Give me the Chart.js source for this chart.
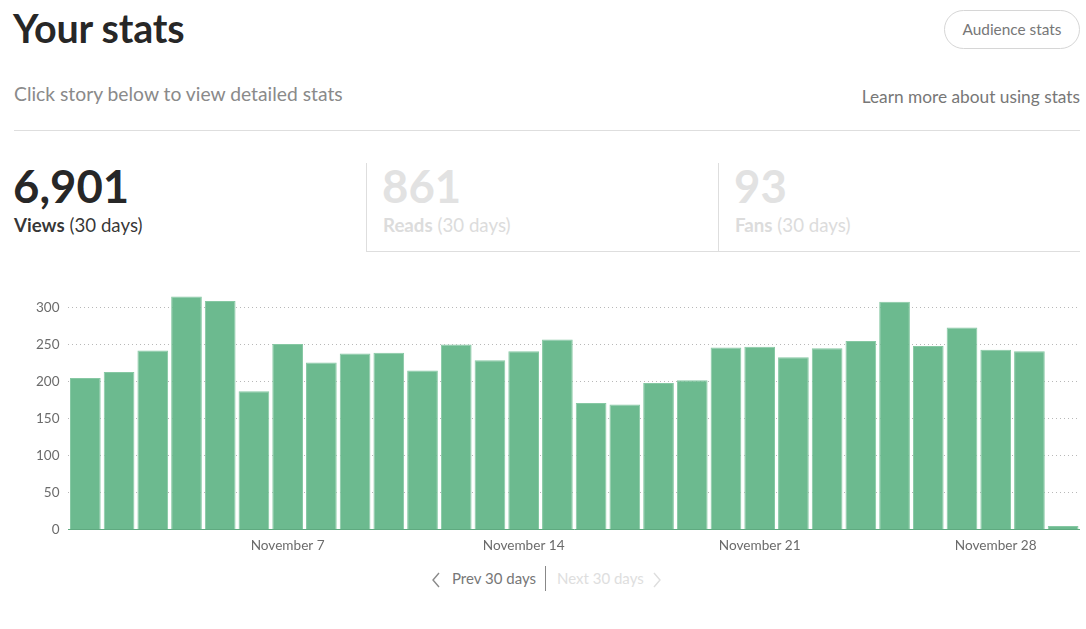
<!DOCTYPE html>
<html>
<head>
<meta charset="utf-8">
<script src="https://cdn.jsdelivr.net/npm/chart.js@4"></script>
<style>
  html, body { margin: 0; padding: 0; background: #fff; }
  body { width: 1086px; height: 629px; position: relative; overflow: hidden; font-family: Lato, "Open Sans", sans-serif; }
  .abs { position: absolute; white-space: nowrap; }
  #title { left: 13px; top: 4px; font-size: 39.5px; font-weight: 700; color: rgba(0,0,0,0.86); letter-spacing: -0.2px; }
  #btn { left: 944px; top: 10px; width: 136px; height: 39px; border: 1px solid #d6d6d6; border-radius: 20px; box-sizing: border-box; font-size: 15.4px; color: #777; text-align: center; line-height: 37px; }
  #sub { left: 14px; top: 82px; font-size: 19.3px; color: #8a8a8a; }
  #learn { right: 6px; top: 86px; font-size: 17.3px; color: #777; }
  #hr { left: 14px; top: 130px; width: 1066px; height: 1px; background: #dedede; }
  .tab { top: 163px; height: 89px; box-sizing: border-box; }
  #t2 { left: 366px; width: 352px; border-left: 1px solid #dedede; border-bottom: 1px solid #dedede; }
  #t3 { left: 718px; width: 362px; border-left: 1px solid #dedede; border-bottom: 1px solid #dedede; }
  .num { font-size: 45.5px; font-weight: 700; line-height: 45px; top: 163px; }
  .lbl { font-size: 18.7px; top: 214px; }
  #chartWrap { position: absolute; left: 27px; top: 272px; width: 1053px; height: 290px; }
  .nav { top: 569px; font-size: 15px; }
</style>
</head>
<body>
<div class="abs" id="title">Your stats</div>
<div class="abs" id="btn">Audience stats</div>
<div class="abs" id="sub">Click story below to view detailed stats</div>
<div class="abs" id="learn">Learn more about using stats</div>
<div class="abs" id="hr"></div>

<div class="abs tab" id="t2"></div>
<div class="abs tab" id="t3"></div>

<div class="abs num" style="left:13px;color:rgba(0,0,0,0.86);">6,901</div>
<div class="abs lbl" style="left:14px;color:rgba(0,0,0,0.8);"><b>Views</b> (30 days)</div>
<div class="abs num" style="left:382px;color:#e2e2e2;">861</div>
<div class="abs lbl" style="left:383px;color:#dcdcdc;"><b>Reads</b> (30 days)</div>
<div class="abs num" style="left:734px;color:#e2e2e2;">93</div>
<div class="abs lbl" style="left:735px;color:#dcdcdc;"><b>Fans</b> (30 days)</div>

<div id="chartWrap"><canvas id="c"></canvas></div>

<svg class="abs" style="left:430px;top:571px;" width="12" height="18"><polyline points="9,2 3,9 9,16" fill="none" stroke="#8a8a8a" stroke-width="1.4"/></svg>
<div class="abs nav" style="left:452px;color:#777;">Prev 30 days</div>
<div class="abs" style="left:545px;top:566px;width:1px;height:25px;background:#888;"></div>
<div class="abs nav" style="left:557px;color:#dedede;">Next 30 days</div>
<svg class="abs" style="left:651px;top:571px;" width="12" height="18"><polyline points="3,2 9,9 3,16" fill="none" stroke="#dedede" stroke-width="1.4"/></svg>

<script>
const days = ['November 1','November 2','November 3','November 4','November 5','November 6','November 7','November 8','November 9','November 10',
  'November 11','November 12','November 13','November 14','November 15','November 16','November 17','November 18','November 19','November 20',
  'November 21','November 22','November 23','November 24','November 25','November 26','November 27','November 28','November 29','November 30'];
const views = [205,213,242,315,309,187,251,226,238,239,
  215,250,229,241,257,171,169,198,202,246,
  247,233,245,255,308,248,273,243,241,5];
const shownXTicks = ['November 7','November 14','November 21','November 28'];
const yTickValues = [0,50,100,150,200,250,300];

new Chart(document.getElementById('c'), {
  type: 'bar',
  data: {
    labels: days,
    datasets: [{
      data: views,
      backgroundColor: '#6cba8f',
      borderColor: '#86c8a3',
      borderWidth: 1,
      categoryPercentage: 1,
      barPercentage: 0.91
    }]
  },
  options: {
    responsive: true,
    maintainAspectRatio: false,
    animation: false,
    layout: { padding: 0 },
    plugins: { legend: { display: false }, tooltip: { enabled: false } },
    scales: {
      x: {
        grid: { display: false, drawTicks: false },
        border: { display: true, color: '#5fa97f', width: 1 },
        ticks: {
          autoSkip: false,
          maxRotation: 0,
          padding: 8,
          color: '#6b6b6b',
          font: { family: 'Lato, "Open Sans", sans-serif', size: 13.6 },
          callback: function(v) { const l = days[v]; return shownXTicks.includes(l) ? l : ''; }
        }
      },
      y: {
        min: 0,
        max: 325,
        afterBuildTicks: function(axis) { axis.ticks = yTickValues.map(v => ({ value: v })); },
        grid: { color: '#b8b8b8', lineWidth: 1, drawTicks: false },
        border: { display: false, dash: [1, 3] },
        ticks: {
          padding: 9,
          color: '#6b6b6b',
          font: { family: 'Lato, "Open Sans", sans-serif', size: 13.5 }
        }
      }
    }
  }
});
</script>
</body>
</html>
